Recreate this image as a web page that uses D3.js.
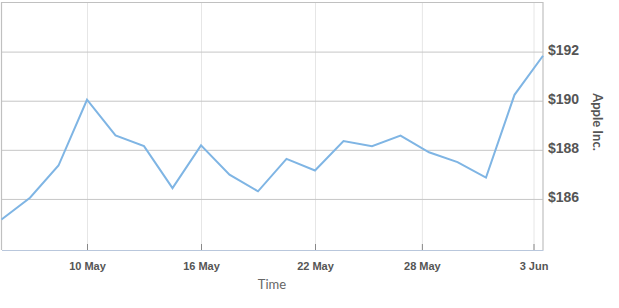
<!DOCTYPE html>
<html>
<head>
<meta charset="utf-8">
<script src="https://cdn.jsdelivr.net/npm/d3@7"></script>
<style>
body{margin:0;background:#fff;}
svg{display:block;font-family:Lato,"Open Sans",sans-serif;}
.tick text{fill:#555;}
</style>
</head>
<body>
<div id="canvas"></div>
<script>
// AAPL daily closes, May 7 - Jun 4
var dates = ['2018-05-07','2018-05-08','2018-05-09','2018-05-10','2018-05-11','2018-05-14','2018-05-15',
  '2018-05-16','2018-05-17','2018-05-18','2018-05-21','2018-05-22','2018-05-23','2018-05-24','2018-05-25',
  '2018-05-29','2018-05-30','2018-05-31','2018-06-01','2018-06-04'];
var prices = [185.16,186.05,187.36,190.04,188.59,188.15,186.44,188.18,186.99,186.31,187.63,187.16,188.36,
  188.15,188.58,187.90,187.50,186.87,190.24,191.83];
var xTicks = ['2018-05-10','2018-05-16','2018-05-22','2018-05-28','2018-06-03'];
var yTicks = [186,188,190,192];
var yDomain = [183.92,194];

var parseDate = d3.timeParse('%Y-%m-%d');
var m = {t:2.5,r:76,b:58,l:1.5};
var W = 619, H = 308;
var w = W - m.l - m.r, h = H - m.t - m.b;

var svg = d3.select('#canvas').append('svg').attr('width',W).attr('height',H);
var plot = svg.append('g').attr('transform','translate('+m.l+','+m.t+')');

var rows = dates.map(function(d,i){ return {date:parseDate(d), price:prices[i]}; });

// ordinal-style time axis: trading days evenly spaced, gaps interpolated
var scaleX = d3.scaleTime()
  .domain(rows.map(function(d){return d.date;}))
  .range(rows.map(function(d,i){return i*w/(rows.length-1);}));
var scaleY = d3.scaleLinear().domain(yDomain).range([h,0]);

var tickDates = xTicks.map(parseDate);

// vertical grid
plot.append('g')
  .call(d3.axisBottom(scaleX).tickValues(tickDates).tickSize(h).tickFormat(''))
  .call(function(g){
    g.select('.domain').remove();
    g.selectAll('line').attr('stroke','#e6e6e6');
  });

// horizontal grid
plot.append('g')
  .call(d3.axisLeft(scaleY).tickValues(yTicks).tickSize(-w).tickFormat(''))
  .call(function(g){
    g.select('.domain').remove();
    g.selectAll('line').attr('stroke','#c6c6c6');
  });

// frame
plot.append('path')
  .attr('d','M0,'+h+'V0H'+w+'V'+h)
  .attr('fill','none').attr('stroke','#c0c0c0').attr('stroke-width',1.2);

// line
var line = d3.line()
  .x(function(d){return scaleX(d.date);})
  .y(function(d){return scaleY(d.price);});
plot.append('path').datum(rows)
  .attr('d',line)
  .attr('fill','none')
  .attr('stroke','#7fb5e4')
  .attr('stroke-width',2);

// x axis
var axisX = d3.axisBottom(scaleX).tickValues(tickDates)
  .tickFormat(d3.timeFormat('%-d %b')).tickSizeInner(-6).tickSizeOuter(0).tickPadding(12);
plot.append('g')
  .attr('class','axis axis-x')
  .attr('transform','translate(0,'+h+')')
  .call(axisX)
  .call(function(g){
    g.select('.domain').attr('stroke','#b9c7dc').attr('stroke-width',1.2);
    g.selectAll('line').attr('stroke','#888');
    g.selectAll('text').attr('font-size',11).attr('font-weight','bold');
  });

// y axis on the right
var axisY = d3.axisRight(scaleY).tickValues(yTicks)
  .tickFormat(function(d){return '$'+d;}).tickSize(0).tickPadding(5);
plot.append('g')
  .attr('class','axis axis-y')
  .attr('transform','translate('+w+',0)')
  .call(axisY)
  .call(function(g){
    g.select('.domain').remove();
    g.selectAll('text').attr('font-size',14).attr('font-weight','bold').attr('dy','0.2em');
  });

// titles
svg.append('text')
  .attr('x',272).attr('y',289)
  .attr('text-anchor','middle')
  .attr('font-size',13).attr('fill','#666')
  .text('Time');

svg.append('text')
  .attr('transform','translate(593,122) rotate(90)')
  .attr('text-anchor','middle')
  .attr('font-size',13).attr('font-weight','bold').attr('fill','#555')
  .text('Apple Inc.');
</script>
</body>
</html>
